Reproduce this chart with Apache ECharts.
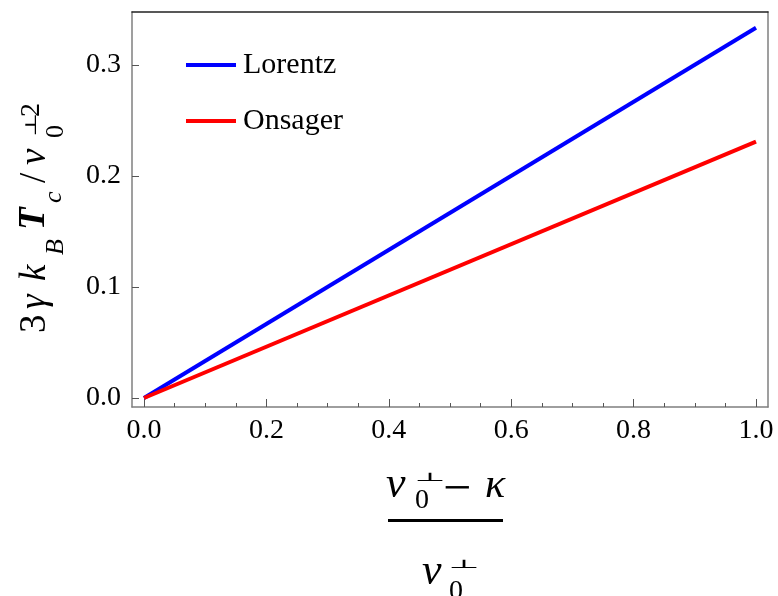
<!DOCTYPE html>
<html><head><meta charset="utf-8">
<script src="https://cdn.jsdelivr.net/npm/echarts@6/dist/echarts.min.js"></script>
<style>html,body{margin:0;padding:0;background:#fff}#c{width:778px;height:596px}</style>
</head><body><div id="c"></div>
<script>
// ---- data ----
const xValues = [0.0, 1.0];
const lorentz = [0.0, 0.3335];
const onsager = [0.0, 0.2310];
const seriesNames = ['Lorentz', 'Onsager'];
const xMajorTicks = [0.0, 0.2, 0.4, 0.6, 0.8, 1.0];
const xMinorTicks = [0.05,0.1,0.15,0.25,0.3,0.35,0.45,0.5,0.55,0.65,0.7,0.75,0.85,0.9,0.95];
const yMajorTicks = [0.0, 0.1, 0.2, 0.3];

const SERIF = '"Liberation Serif", "DejaVu Serif", serif';
const chart = echarts.init(document.getElementById('c'), null, {renderer:'canvas'});
const grid = {left:132, right:10, top:12, bottom:189};
const xr = {min:-0.0196, max:1.0196};
const yr = {min:-0.0081, max:0.3477};
const gray = '#7f7f7f';

function t(text, x, y, size, italic, extra, weight) {
  return Object.assign({type:'text', x:x, y:y, style:{text:text, font:(italic?'italic ':'') + (weight?weight+' ':'') + size + 'px ' + SERIF, fill:'#000', verticalAlign:'middle', align:'left'}}, extra||{});
}
// baseline -> middle offset
function mb(base, size){ return base - 0.33*size; }

const yNameChildren = [
  t('3', 0, mb(0,37), 37, false),
  t('γ', 24, mb(0,37), 37, true),
  t('k', 52, mb(0,37), 37, true),
  t('B', 78, mb(18,26), 26, true),
  t('T', 103, mb(0,37), 37, true, null, 'bold'),
  t('c', 130, mb(16,26), 26, true),
  t('/', 150, mb(0,37), 37, false),
  t('v', 168, mb(0,37), 37, true),
  t('0', 195, mb(18,26), 26, false),
  t('⊥', 196, mb(-7,26), 26, false, {scaleY:0.6}),
  t('2', 216, mb(-6,28), 28, false)
];

const option = {
  animation:false,
  backgroundColor:'#fff',
  grid: grid,
  legend: {
    orient:'vertical', left:181, top:45, itemWidth:50, itemHeight:4, itemGap:26,
    icon:'rect',
    data: seriesNames,
    textStyle:{fontFamily:SERIF, fontSize:30, color:'#000', padding:[0,0,0,2]}
  },
  xAxis: [
    {type:'value', min:xr.min, max:xr.max, position:'bottom',
     axisLine:{show:true, onZero:false, lineStyle:{color:gray, width:1.5}},
     axisTick:{show:true, inside:true, length:8, lineStyle:{color:'#555', width:1}, customValues:xMajorTicks},
     axisLabel:{show:true, customValues:xMajorTicks, margin:10, formatter:v=>v.toFixed(1), fontFamily:SERIF, fontSize:28, color:'#000'},
     splitLine:{show:false}},
    {type:'value', min:xr.min, max:xr.max, position:'bottom',
     axisLine:{show:false, onZero:false},
     axisTick:{show:true, inside:true, length:4, lineStyle:{color:'#555', width:1}, customValues:xMinorTicks},
     axisLabel:{show:false}, splitLine:{show:false}},
    {type:'value', min:xr.min, max:xr.max, position:'top',
     axisLine:{show:true, onZero:false, lineStyle:{color:'#222', width:1.5}},
     axisTick:{show:false}, axisLabel:{show:false}, splitLine:{show:false}}
  ],
  yAxis: [
    {type:'value', min:yr.min, max:yr.max, position:'left',
     axisLine:{show:true, onZero:false, lineStyle:{color:gray, width:1.5}},
     axisTick:{show:true, inside:true, length:7, lineStyle:{color:'#555', width:1}, customValues:yMajorTicks},
     axisLabel:{show:true, customValues:yMajorTicks, margin:11, formatter:v=>v.toFixed(1), fontFamily:SERIF, fontSize:28, color:'#000'},
     splitLine:{show:false}},
    {type:'value', min:yr.min, max:yr.max, position:'right',
     axisLine:{show:true, onZero:false, lineStyle:{color:gray, width:1.5}},
     axisTick:{show:false}, axisLabel:{show:false}, splitLine:{show:false}}
  ],
  series: [
    {name:seriesNames[0], type:'line', xAxisIndex:0, yAxisIndex:0, showSymbol:false, symbol:'none',
     lineStyle:{color:'#0000ff', width:4}, itemStyle:{color:'#0000ff'},
     data: xValues.map((x,i)=>[x, lorentz[i]])},
    {name:seriesNames[1], type:'line', xAxisIndex:0, yAxisIndex:0, showSymbol:false, symbol:'none',
     lineStyle:{color:'#ff0000', width:4}, itemStyle:{color:'#ff0000'},
     data: xValues.map((x,i)=>[x, onsager[i]])}
  ],
  graphic: [
    {type:'group', x:47, y:333, rotation:Math.PI/2, children: yNameChildren},
    // x-axis fraction label
    t('v', 386, mb(500,44), 44, true),
    t('⊥', 414, 478, 34, false, {scaleY:0.35}),
    t('0', 415, mb(510,28), 28, false),
    t('−', 443, 491, 50, false),
    t('κ', 485, mb(500,42), 42, true),
    {type:'rect', shape:{x:388, y:519, width:115, height:3}, style:{fill:'#000'}},
    t('v', 422, mb(587,44), 44, true),
    t('⊥', 448, 565, 34, false, {scaleY:0.35}),
    t('0', 449, mb(601,28), 28, false)
  ]
};
chart.setOption(option);
</script>
</body></html>
